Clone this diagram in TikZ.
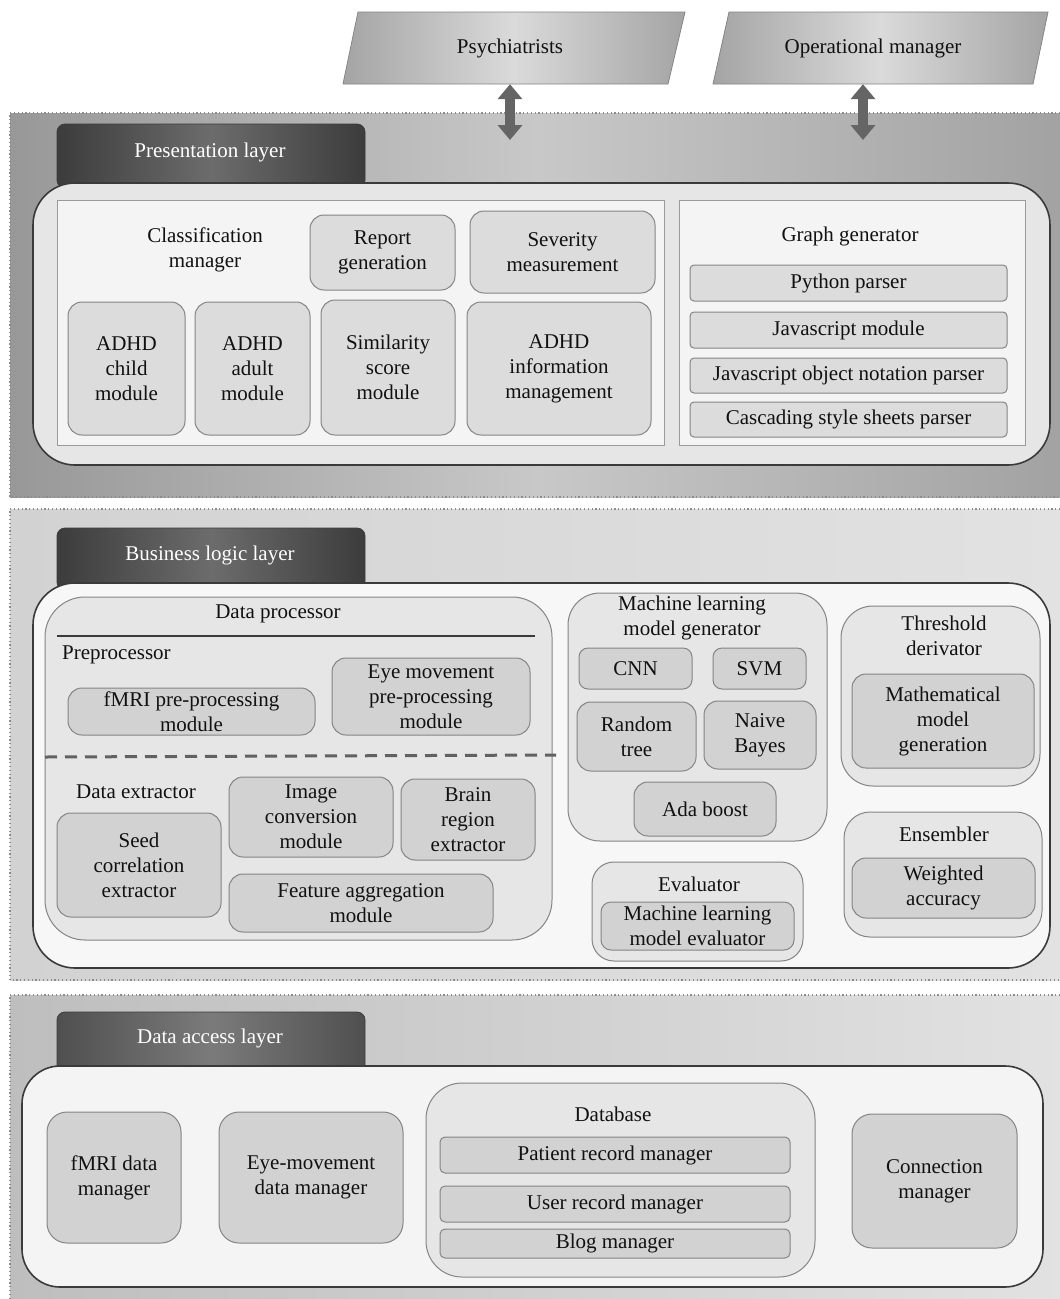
\documentclass[tikz,border=0pt]{standalone}
\usepackage{fontspec}
\setmainfont{Liberation Serif}
\usetikzlibrary{arrows.meta}
\definecolor{presL}{HTML}{989898}
\definecolor{presM}{HTML}{C8C8C8}
\definecolor{presR}{HTML}{A2A2A2}
\definecolor{busL}{HTML}{D2D2D2}
\definecolor{busR}{HTML}{E2E2E2}
\definecolor{datL}{HTML}{BEBEBE}
\definecolor{datR}{HTML}{E2E2E2}
\definecolor{dotc}{HTML}{8C8C8C}
\definecolor{tabL}{HTML}{3C3C3C}
\definecolor{tabM}{HTML}{6C6C6C}
\definecolor{innerd}{HTML}{3A3A3A}
\definecolor{panelb}{HTML}{9A9A9A}
\definecolor{wpanel}{HTML}{F4F4F4}
\definecolor{gpanel}{HTML}{E6E6E6}
\definecolor{boxd}{HTML}{858585}
\definecolor{boxf}{HTML}{DCDCDC}
\definecolor{boxg}{HTML}{D2D2D2}
\definecolor{arrc}{HTML}{656565}
\definecolor{parL}{HTML}{A4A4A4}
\definecolor{parM}{HTML}{DADADA}
\definecolor{txt}{HTML}{111111}
\begin{document}
\begin{tikzpicture}[x=1pt,y=-1pt,
  font=\fontsize{21}{25}\selectfont, text=txt,
  layerbg/.style={draw=dotc, line width=1.6pt, dash pattern=on 1.2pt off 2.6pt},
  tabbox/.style={rounded corners=8pt, draw=tabL, line width=0.8pt, left color=tabL, right color=tabL, middle color=tabM},
  tabtext/.style={text=white, inner sep=0pt},
  innerbox/.style={rounded corners=42pt, draw=innerd, line width=1.6pt},
  wpan/.style={draw=panelb, fill=wpanel, line width=1pt},
  gpan/.style={draw=boxd, fill=gpanel, line width=1pt},
  pbox/.style={draw=boxd, fill=boxf, rounded corners=14pt, line width=1pt, align=center, inner sep=0pt},
  gbox/.style={pbox, rounded corners=4pt},
  dbox/.style={pbox, fill=boxg},
  lbl/.style={align=center, inner sep=0pt},
  dblarrow/.style={draw=arrc, line width=10pt, {Triangle[width=24pt,length=15pt]}-{Triangle[width=24pt,length=15pt]}}
]
\useasboundingbox (0,0) rectangle (1060,1299);
\fill[white] (0,0) rectangle (1060,1299);

% ---------- actors ----------
\path[draw=boxd, line width=0.8pt, left color=parL, right color=parL, middle color=parM]
  (358,12) -- (685,12) -- (668,84) -- (343,84) -- cycle;
\path[draw=boxd, line width=0.8pt, left color=parL, right color=parL, middle color=parM]
  (729,12) -- (1048,12) -- (1033,84) -- (713,84) -- cycle;
\node[lbl, minimum width=300pt, minimum height=72pt] (psy) at (510,48) {Psychiatrists};
\node[lbl, minimum width=300pt, minimum height=72pt] (op) at (873,48) {Operational manager};

% ---------- presentation layer ----------
\fill[left color=presL, right color=presR, middle color=presM] (10,113) rectangle (1064,497);
\draw[layerbg] (1064,113) -- (10,113) -- (10,497) -- (1064,497);
\coordinate (psyend) at (510,140);
\coordinate (opend) at (863,140);
\draw[dblarrow] (psy.south) -- (psyend);
\draw[dblarrow] ([xshift=-10pt]op.south) -- (opend);
\path[tabbox] (57,124) rectangle (365,188);
\node[tabtext] (tabP) at (210,152) {Presentation layer};
\path[innerbox, fill=gpanel] (33,183) rectangle (1050,465);
\path[wpan] (57,200) rectangle (664,445);
\path[wpan] (679,200) rectangle (1025,445);

\node[lbl] (clsm) at (205,250) {Classification\\manager};
\node[pbox, minimum width=145pt, minimum height=75pt] (report) at (382.5,252.5) {Report\\generation};
\node[pbox, minimum width=185pt, minimum height=82pt] (sever) at (562.5,252) {Severity\\measurement};
\node[pbox, minimum width=117pt, minimum height=133pt] (child) at (126.5,368.5) {ADHD\\child\\module};
\node[pbox, minimum width=115pt, minimum height=133pt] (adult) at (252.5,368.5) {ADHD\\adult\\module};
\node[pbox, minimum width=134pt, minimum height=135pt] (simil) at (388,367.5) {Similarity\\score\\module};
\node[pbox, minimum width=184pt, minimum height=133pt] (info) at (559,368.5) {ADHD\\information\\management};

\node[lbl] (graphg) at (850,236) {Graph generator};
\node[gbox, minimum width=317pt, minimum height=36pt] (pyp) at (848.5,283) {Python parser};
\node[gbox, minimum width=317pt, minimum height=36pt] (jsm) at (848.5,330) {Javascript module};
\node[gbox, minimum width=317pt, minimum height=35pt] (json) at (848.5,375.5) {Javascript object notation parser};
\node[gbox, minimum width=317pt, minimum height=35pt] (css) at (848.5,419.5) {Cascading style sheets parser};

% ---------- business logic layer ----------
\fill[left color=busL, right color=busR] (10,509) rectangle (1064,980);
\draw[layerbg] (1064,509) -- (10,509) -- (10,980) -- (1064,980);
\path[tabbox] (57,528) rectangle (365,590);
\node[tabtext] (tabB) at (210,555) {Business logic layer};
\path[innerbox, fill=white!97!black] (33,583) rectangle (1050,968);

\path[gpan, rounded corners=40pt] (45,597) rectangle (552,940);
\node[lbl] (dproc) at (278,614) {Data processor};
\draw[line width=2pt, draw=innerd] (57,636) -- (535,636);
\node[lbl, anchor=west] (prep) at (62,655) {Preprocessor};
\node[dbox, minimum width=247pt, minimum height=47pt] (fmripre) at (191.5,711.5) {fMRI pre-processing\\module};
\node[dbox, minimum width=198pt, minimum height=77pt] (eyepre) at (431,696.5) {Eye movement\\pre-processing\\module};
\draw[line width=3pt, draw=innerd!80, dash pattern=on 12pt off 8pt] (45,757) -- (556,755);
\node[lbl] (dext) at (136,792) {Data extractor};
\node[dbox, minimum width=164pt, minimum height=104pt] (seed) at (139,865) {Seed\\correlation\\extractor};
\node[dbox, minimum width=164pt, minimum height=80pt] (imgc) at (311,817) {Image\\conversion\\module};
\node[dbox, minimum width=134pt, minimum height=81pt] (brain) at (468,819.5) {Brain\\region\\extractor};
\node[dbox, minimum width=264pt, minimum height=58pt] (feat) at (361,903) {Feature aggregation\\module};

\path[gpan, rounded corners=32pt] (568,593) rectangle (827,841);
\node[lbl] (mlg) at (692,618) {Machine learning\\model generator};
\node[dbox, rounded corners=9pt, minimum width=113pt, minimum height=41pt] (cnn) at (635.5,668.5) {CNN};
\node[dbox, rounded corners=9pt, minimum width=93pt, minimum height=41pt] (svm) at (759.5,668.5) {SVM};
\node[dbox, minimum width=119pt, minimum height=69pt] (rtree) at (636.5,736.5) {Random\\tree};
\node[dbox, minimum width=112pt, minimum height=68pt] (nb) at (760,735) {Naive\\Bayes};
\node[dbox, minimum width=142pt, minimum height=54pt] (ada) at (705,809) {Ada boost};

\path[gpan, rounded corners=22pt] (592,862) rectangle (803,961);
\node[lbl] (evalt) at (699,884) {Evaluator};
\node[dbox, rounded corners=10pt, minimum width=193pt, minimum height=48pt] (mleval) at (697.5,926) {Machine learning\\model evaluator};

\path[gpan, rounded corners=32pt] (841,606) rectangle (1040,786);
\node[lbl] (thr) at (944,636) {Threshold\\derivator};
\node[dbox, minimum width=182pt, minimum height=94pt] (math) at (943,721) {Mathematical\\model\\generation};

\path[gpan, rounded corners=26pt] (844,812) rectangle (1042,937);
\node[lbl] (ens) at (944,834) {Ensembler};
\node[dbox, minimum width=183pt, minimum height=60pt] (wacc) at (943.5,888) {Weighted\\accuracy};

% ---------- data access layer ----------
\fill[left color=datL, right color=datR] (10,995) rectangle (1064,1304);
\draw[layerbg] (1064,995) -- (10,995) -- (10,1304);
\path[tabbox, left color=tabL!90!white, right color=tabL!90!white, middle color=tabM!90!white] (57,1012) rectangle (365,1074);
\node[tabtext] (tabD) at (210,1038) {Data access layer};
\path[innerbox, rounded corners=38pt, fill=wpanel] (22,1066) rectangle (1043,1287);

\node[dbox, rounded corners=20pt, minimum width=134pt, minimum height=131pt] (fmridm) at (114,1177.5) {fMRI data\\manager};
\node[dbox, rounded corners=20pt, minimum width=184pt, minimum height=131pt] (eyedm) at (311,1177.5) {Eye-movement\\data manager};
\path[gpan, rounded corners=36pt] (426,1083) rectangle (815,1277);
\node[lbl] (dbt) at (613,1114) {Database};
\node[dbox, rounded corners=5pt, minimum width=350pt, minimum height=36pt] (patient) at (615,1155) {Patient record manager};
\node[dbox, rounded corners=5pt, minimum width=350pt, minimum height=36pt] (userm) at (615,1204) {User record manager};
\node[dbox, rounded corners=5pt, minimum width=350pt, minimum height=29pt] (blog) at (615,1243.5) {Blog manager};
\node[dbox, rounded corners=20pt, minimum width=165pt, minimum height=134pt] (conn) at (934.5,1181) {Connection\\manager};
\end{tikzpicture}
\end{document}
